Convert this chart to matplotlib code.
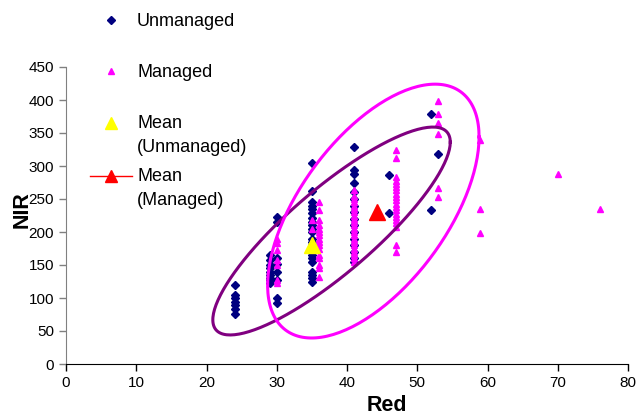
import numpy as np
import matplotlib.pyplot as plt
from matplotlib.lines import Line2D
from matplotlib.legend_handler import HandlerLine2D

plt.rcParams['font.family'] = ['Liberation Sans', 'DejaVu Sans']

# Unmanaged plots (Red, NIR)
unm_red = [24]*7 + [29]*9 + [30]*8 + [35]*23 + [41]*16 + [46]*2 + [52]*2 + [53]
unm_nir = [120, 104, 100, 94, 89, 83, 76,
           165, 157, 150, 145, 140, 135, 130, 127, 122,
           222, 215, 160, 152, 140, 127, 100, 92,
           304, 262, 245, 240, 235, 229, 221, 215, 210, 205, 200, 190, 185, 180, 175, 170, 165, 160, 155, 140, 135, 130, 125,
           329, 294, 288, 274, 260, 250, 240, 230, 220, 210, 200, 190, 180, 170, 160, 155,
           286, 229,
           379, 233,
           318]

# Managed plots (Red, NIR)
man_red = [30]*7 + [35]*2 + [36]*16 + [41]*22 + [47]*20 + [53]*6 + [59]*3 + [70, 76]
man_nir = [190, 183, 173, 158, 150, 127, 122,
           218, 205,
           245, 233, 218, 210, 205, 200, 195, 190, 185, 180, 175, 165, 160, 150, 145, 132,
           264, 255, 250, 245, 240, 235, 230, 225, 220, 215, 210, 205, 200, 195, 190, 185, 180, 175, 170, 165, 160, 155,
           324, 312, 283, 278, 273, 268, 263, 258, 253, 248, 243, 238, 233, 228, 223, 218, 213, 208, 180, 170,
           398, 379, 365, 348, 267, 253,
           339, 235, 198,
           288, 235]

# group means
mean_unm = (35, 180)
mean_man = (44.3, 230)

# ellipses: centre, half-range in x and y, correlation
ell_unm = dict(cx=37.8, cy=201.5, sx=16.9, sy=157.5, rho=0.854)
ell_man = dict(cx=43.75, cy=231.7, sx=15.05, sy=192.3, rho=0.584)


def ellipse(e, n=200):
    t = np.linspace(0, 2*np.pi, n)
    phi = np.arccos(e['rho'])
    return e['cx'] + e['sx']*np.cos(t), e['cy'] + e['sy']*np.cos(t - phi)


class RaisedHandler(HandlerLine2D):
    # puts the marker level with the first line of a two-line label
    def __init__(self, shift, **kw):
        super().__init__(**kw)
        self.shift = shift

    def create_artists(self, *args, **kw):
        arts = super().create_artists(*args, **kw)
        for a in arts:
            a.set_ydata(np.asarray(a.get_ydata()) + self.shift)
        return arts


fig = plt.figure(figsize=(6.37, 4.17), dpi=100)
ax = fig.add_axes([66/637, 1 - 364/417, 562/637, 297/417])

ax.plot(unm_red, unm_nir, 'D', color='#000080', ms=4.5, mec='#000080', zorder=3)
ax.plot(man_red, man_nir, '^', color='#FF00FF', ms=5, mec='#FF00FF', zorder=4)

x, y = ellipse(ell_unm)
ax.plot(x, y, color='#800080', lw=2.2, zorder=5)
x, y = ellipse(ell_man)
ax.plot(x, y, color='#FF00FF', lw=2.2, zorder=5)

ax.plot([mean_unm[0]], [mean_unm[1]], '^', color='#FFFF00', ms=11, zorder=6)
ax.plot([mean_man[0]], [mean_man[1]], '^-', color='#FF0000', ms=11, zorder=6)

ax.set_xlim(0, 80)
ax.set_ylim(0, 450)
ax.set_xticks(range(0, 81, 10))
ax.set_yticks(range(0, 451, 50))
ax.tick_params(labelsize=11, length=5, width=1, direction='out')
ax.tick_params(axis='y', color='#808080')
for s in ['top', 'right']:
    ax.spines[s].set_visible(False)
ax.spines['left'].set_color('#808080')
ax.spines['bottom'].set_color('black')

ax.set_xlabel('Red', fontsize=15.5, fontweight='bold')
ax.set_ylabel('NIR', fontsize=15.5, fontweight='bold')
ax.xaxis.set_label_coords(0.571, -0.106)
ax.yaxis.set_label_coords(-0.06, 0.519)

h1 = [Line2D([], [], ls='none', marker='D', color='#000080', ms=4),
      Line2D([], [], ls='none', marker='^', color='#FF00FF', ms=5)]
h2 = [Line2D([], [], ls='none', marker='^', color='#FFFF00', ms=9),
      Line2D([], [], ls='-', lw=1, marker='^', color='#FF0000', ms=9)]
fig.legend(h1, ['Unmanaged', 'Managed'], loc='upper left',
           bbox_to_anchor=(90/637, 1 - 13/417), frameon=False, fontsize=13,
           labelspacing=1.88, handlelength=2.33, handletextpad=0.28,
           borderpad=0, borderaxespad=0)
leg2 = fig.legend(h2, ['Mean\n(Unmanaged)', 'Mean\n(Managed)'], loc='upper left',
                  bbox_to_anchor=(90/637, 1 - 115/417), frameon=False, fontsize=13,
                  labelspacing=0.7, handlelength=2.33, handletextpad=0.28,
                  borderpad=0, borderaxespad=0,
                  handler_map={h: RaisedHandler(9) for h in h2})
for t in leg2.get_texts():
    t.set_linespacing(1.5)

fig.savefig('out.png', dpi=100)
